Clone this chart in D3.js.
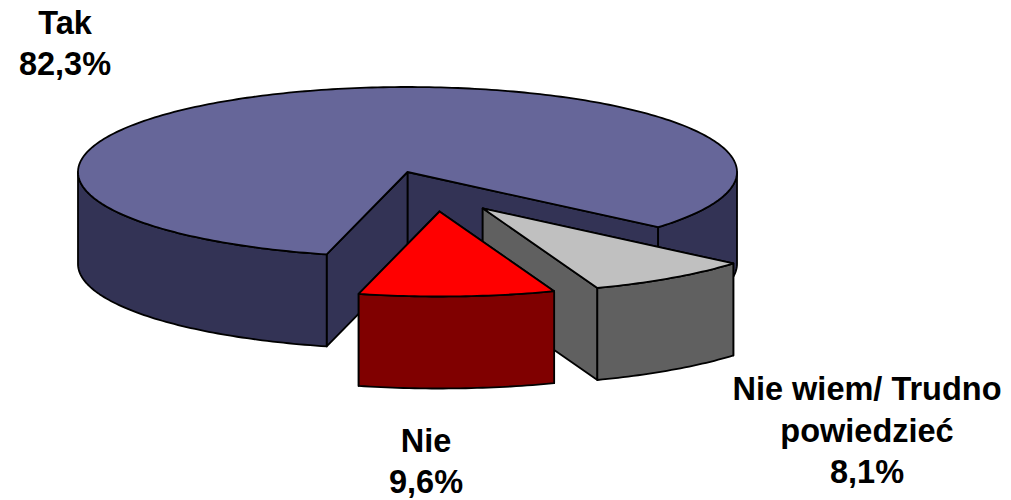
<!DOCTYPE html>
<html lang="pl">
<head>
<meta charset="utf-8">
<script src="https://d3js.org/d3.v7.min.js"></script>
<style>
html,body{margin:0;padding:0;background:#fff}
svg{display:block}
text{font-family:"Liberation Sans",Arial,sans-serif;font-weight:700;fill:#000}
</style>
</head>
<body>
<svg id="chart" width="1011" height="500"></svg>
<script>
const categories = ["Tak", "Nie wiem/ Trudno powiedzieć", "Nie"];
const values = [82.3, 8.1, 9.6];
const valueLabels = ["82,3%", "8,1%", "9,6%"];
const labelLines = [["Tak"], ["Nie wiem/ Trudno", "powiedzieć"], ["Nie"]];
const topColors = ["#666699", "#c0c0c0", "#ff0000"];
const sideColors = ["#333355", "#606060", "#800000"];

// layout
const W = 1011, H = 500;
const CX = 407.5, CY = 172, RX = 329.5, RY = 85, DEPTH = 92;
const centres = [[CX, CY], [482.7, 208.3], [439.5, 211.5]];
const labelAnchors = [[65, 33.5], [867, 400], [426, 451.5]];
const LINE = 41.5, FONT = 32.5;
const START = 194.2 * Math.PI / 180;

const svg = d3.select("#chart").attr("viewBox", [0, 0, W, H]);
const sx = d3.scaleLinear().domain([-1, 1]).range([-RX, RX]);
const sy = d3.scaleLinear().domain([-1, 1]).range([-RY, RY]);
const pie = d3.pie().sort(null).startAngle(START).endAngle(START + 2 * Math.PI);
const arcs = pie(values);
const line = d3.line();
const STEP = Math.PI / 180;

// d3.pie angle: 0 is up, clockwise; y grows downward on screen
const pt = (c, a, dz = 0) => [c[0] + sx(Math.sin(a)), c[1] + sy(-Math.cos(a)) + dz];
const sweep = (a0, a1) => {
  const n = Math.max(1, Math.ceil(Math.abs(a1 - a0) / STEP));
  return d3.range(n + 1).map(i => a0 + (a1 - a0) * i / n);
};
const face = (sel, pts, fill) => sel.append("path")
  .attr("d", line(pts) + "Z")
  .attr("fill", fill).attr("stroke", "#000")
  .attr("stroke-width", 1.8).attr("stroke-linejoin", "round");

// front of the rim: ranges of the sweep where the outer surface faces the viewer
function frontRanges(a0, a1) {
  const out = [];
  for (let k = -1; k <= 2; k++) {
    const lo = Math.max(a0, Math.PI / 2 + 2 * Math.PI * k);
    const hi = Math.min(a1, 3 * Math.PI / 2 + 2 * Math.PI * k);
    if (hi > lo) out.push([lo, hi]);
  }
  return out;
}

arcs.forEach((d, i) => {
  const c = centres[i];
  const g = svg.append("g").attr("class", "slice");
  const bottomCentre = [c[0], c[1] + DEPTH];
  // back wall first, so the nearer wall covers it
  [d.startAngle, d.endAngle]
    .sort((a, b) => pt(c, a)[1] - pt(c, b)[1])
    .forEach(a => face(g, [c, pt(c, a), pt(c, a, DEPTH), bottomCentre], sideColors[i]));
  frontRanges(d.startAngle, d.endAngle).forEach(([lo, hi]) => {
    const angs = sweep(lo, hi);
    const upper = angs.map(a => pt(c, a));
    const lower = angs.slice().reverse().map(a => pt(c, a, DEPTH));
    face(g, upper.concat(lower), sideColors[i]);
  });
  const top = [c].concat(sweep(d.startAngle, d.endAngle).map(a => pt(c, a)));
  face(g, top, topColors[i]);
});

const labels = svg.append("g").attr("class", "labels");
categories.forEach((cat, i) => {
  const lines = labelLines[i].concat(valueLabels[i]);
  const t = labels.append("text")
    .attr("text-anchor", "middle")
    .attr("font-size", FONT);
  lines.forEach((s, j) => {
    t.append("tspan").attr("x", labelAnchors[i][0])
      .attr("y", labelAnchors[i][1] + j * LINE).text(s);
  });
});
</script>
</body>
</html>
